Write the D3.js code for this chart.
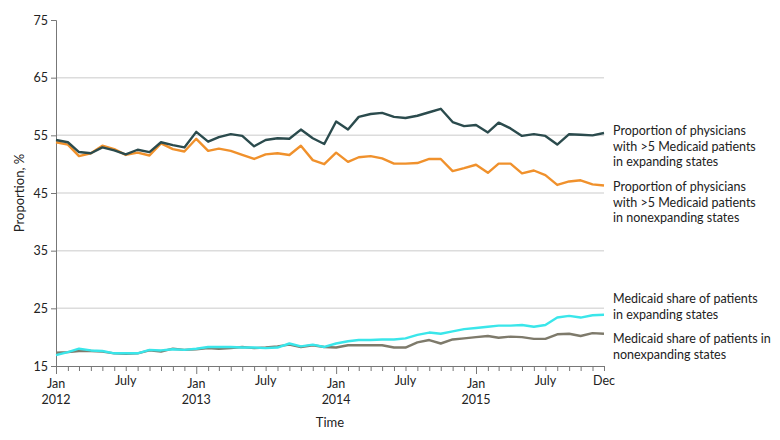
<!DOCTYPE html>
<html><head><meta charset="utf-8">
<script src="https://cdn.jsdelivr.net/npm/d3@7/dist/d3.min.js"></script>
<style>
body{margin:0;background:#fff;}
text{font-family:Lato,"Liberation Sans",sans-serif;fill:#222;}
</style></head>
<body><svg id="c" width="780" height="440"></svg>
<script>
const startYear = 2012, nMonths = 48;
const expandPhys = [54.2,53.8,52.1,51.9,52.9,52.4,51.7,52.5,52.1,53.8,53.3,52.9,
  55.6,53.9,54.7,55.2,54.9,53.1,54.2,54.5,54.4,56.0,54.5,53.5,
  57.4,56.0,58.2,58.7,58.9,58.2,58.0,58.4,59.0,59.6,57.3,56.6,
  56.8,55.5,57.2,56.2,54.9,55.2,54.9,53.4,55.2,55.1,55.0,55.4];
const nonexpPhys = [53.8,53.4,51.4,51.9,53.2,52.6,51.6,52.0,51.5,53.6,52.6,52.2,
  54.4,52.3,52.7,52.3,51.6,50.9,51.7,51.9,51.6,53.2,50.7,50.0,
  52.0,50.4,51.2,51.4,51.0,50.1,50.1,50.2,50.9,50.9,48.8,49.3,
  49.9,48.5,50.1,50.1,48.4,48.9,48.1,46.4,47.0,47.2,46.5,46.3];
const expandShare = [16.9,17.4,18.0,17.7,17.6,17.2,17.2,17.2,17.8,17.7,17.9,17.8,
  18.0,18.3,18.3,18.3,18.2,18.2,18.1,18.2,18.9,18.4,18.7,18.3,
  18.9,19.3,19.5,19.5,19.6,19.6,19.8,20.4,20.8,20.6,21.0,21.4,
  21.6,21.8,22.0,22.0,22.1,21.8,22.1,23.4,23.7,23.4,23.8,23.9];
const nonexpShare = [17.3,17.4,17.6,17.6,17.5,17.2,17.1,17.2,17.7,17.5,18.0,17.8,
  17.9,18.1,18.0,18.1,18.3,18.1,18.2,18.4,18.7,18.3,18.6,18.3,
  18.2,18.6,18.6,18.6,18.6,18.2,18.2,19.1,19.5,18.9,19.6,19.8,
  20.0,20.2,19.9,20.1,20.0,19.7,19.7,20.5,20.6,20.2,20.7,20.6];
const yTicks = [15,25,35,45,55,65,75];
const seriesNames = ["expandPhys","nonexpPhys","expandShare","nonexpShare"];
const seriesColors = ["#2b4b4d","#f0912c","#3ae6ea","#7e7a6b"];
const legendLines = [
  ["Proportion of physicians","with >5 Medicaid patients","in expanding states"],
  ["Proportion of physicians","with >5 Medicaid patients","in nonexpanding states"],
  ["Medicaid share of patients","in expanding states"],
  ["Medicaid share of patients in","nonexpanding states"]
];
const seriesData = [expandPhys, nonexpPhys, expandShare, nonexpShare];
const dates = d3.range(nMonths).map(i => new Date(startYear, i, 1));

const svg = d3.select("#c");
const m = {l:56, r:176, t:20, b:74};
const W = 780, H = 440;
const x = d3.scaleTime().domain([dates[0], dates[nMonths-1]]).range([m.l, W-m.r]);
const y = d3.scaleLinear().domain([15,75]).range([H-m.b, m.t]);

// gridlines
svg.append("g").selectAll("line").data(yTicks.filter(v=>v>15 && v<75)).join("line")
  .attr("x1", m.l).attr("x2", W-m.r).attr("y1", d=>y(d)).attr("y2", d=>y(d))
  .attr("stroke","#dcdcdc").attr("stroke-width",1.5);

// y axis
const ya = svg.append("g").attr("transform",`translate(${m.l},0)`)
  .call(d3.axisLeft(y).tickValues(yTicks).tickSize(5).tickPadding(3));
ya.select(".domain").attr("stroke","#777");
ya.selectAll(".tick line").attr("stroke","#777");
ya.selectAll("text").attr("font-size",12.5).attr("font-family","Lato").attr("fill","#222");

// x axis
const xa = svg.append("g").attr("transform",`translate(0,${H-m.b})`)
  .call(d3.axisBottom(x).tickValues(dates).tickSize(5).tickFormat(""));
xa.select(".domain").attr("stroke","#777");
xa.selectAll(".tick line").attr("stroke","#777")
  .attr("y2", d => d.getMonth()===0 ? 8 : 5);
const xLabels = dates.filter(d => d.getMonth()===0 || d.getMonth()===6 || +d===+dates[nMonths-1]);
const lab = svg.append("g");
xLabels.forEach(d => {
  const t = lab.append("text").attr("x", x(d)).attr("text-anchor","middle").attr("font-size",12.5);
  if (d.getMonth()===0) {
    t.append("tspan").attr("x", x(d)).attr("y", H-m.b+22).text("Jan");
    t.append("tspan").attr("x", x(d)).attr("y", H-m.b+38).text(d.getFullYear());
  } else {
    t.attr("y", H-m.b+19).text(d3.timeFormat(d.getMonth()===6 ? "July" : "%b")(d));
  }
});

svg.append("text").attr("x",(m.l+W-m.r)/2).attr("y",427).attr("text-anchor","middle")
  .attr("font-size",13).text("Time");
svg.append("text").attr("transform",`translate(24,${(m.t+H-m.b)/2}) rotate(-90)`)
  .attr("text-anchor","middle").attr("font-size",13).text("Proportion, %");

// lines
const line = d3.line().x((d,i)=>x(dates[i])).y(d=>y(d));
[3,2,1,0].forEach(k => {
  svg.append("path").datum(seriesData[k]).attr("d", line)
    .attr("fill","none").attr("stroke", seriesColors[k]).attr("stroke-width",2.4)
    .attr("stroke-linejoin","round");
});

// legend labels
const legendTop = [131, 187, 299, 339];
legendLines.forEach((ls,k) => {
  const t = svg.append("text").attr("font-size",12.5);
  ls.forEach((s,j) => t.append("tspan").attr("x", 613).attr("y", legendTop[k] + 4 + j*15.7).text(s));
});
</script></body></html>
